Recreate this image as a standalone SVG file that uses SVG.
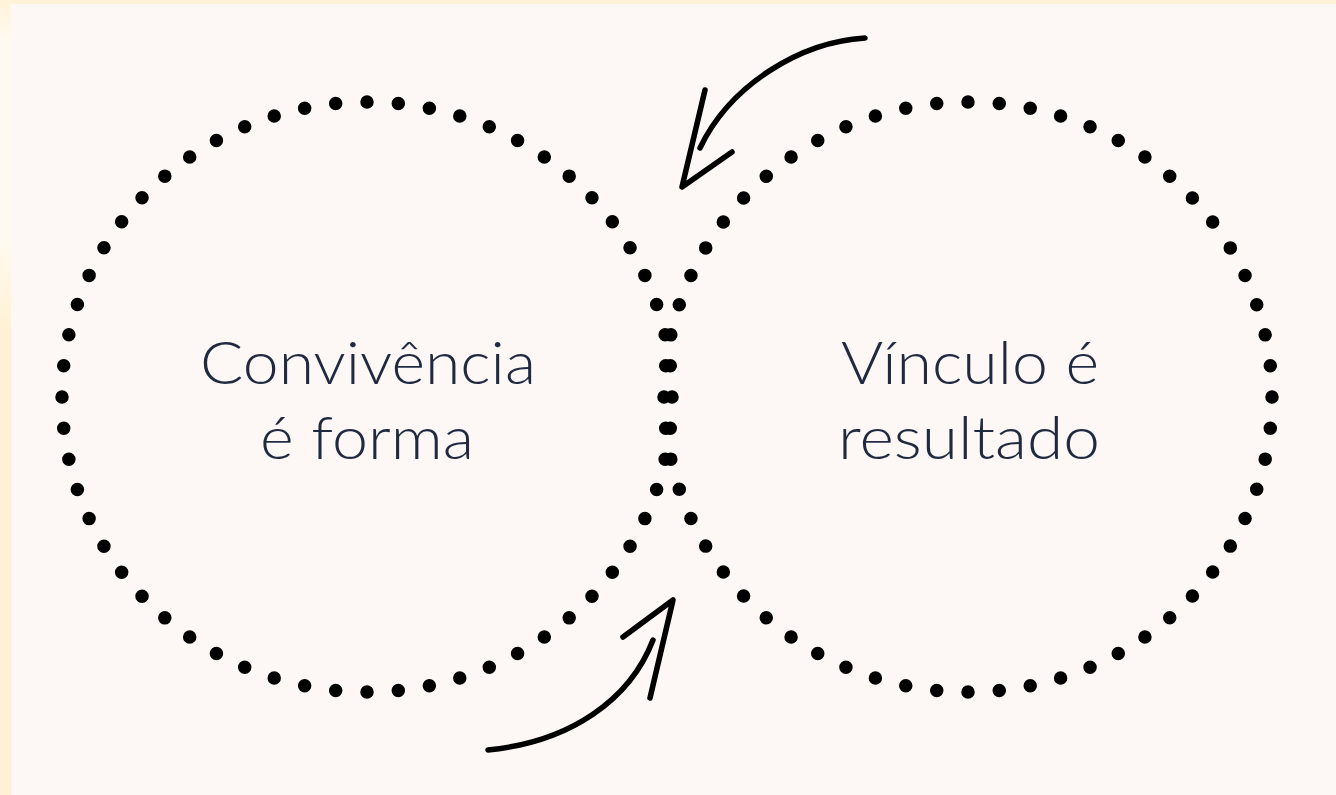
<svg xmlns="http://www.w3.org/2000/svg" width="1336" height="795" viewBox="0 0 1336 795">
  <defs>
    <linearGradient id="edge" x1="0" y1="0" x2="0" y2="1">
      <stop offset="0" stop-color="#fff3d9"/>
      <stop offset="0.05" stop-color="#fffaf0"/>
      <stop offset="0.3" stop-color="#fffaf0"/>
      <stop offset="0.42" stop-color="#fff1d4"/>
      <stop offset="1" stop-color="#fff1d4"/>
    </linearGradient>
  </defs>
  <style>
    .ring { fill: none; stroke: #000; stroke-width: 13.5; stroke-linecap: round; stroke-dasharray: 0 1; }
    .label { font-family: "Lato", "Open Sans", "Liberation Sans", sans-serif; font-weight: 300; font-size: 59px; fill: #1f2a40; text-anchor: middle; }
    .arrow { fill: none; stroke: #000; stroke-width: 5.5; stroke-linecap: round; stroke-linejoin: round; }
  </style>
  <rect x="0" y="0" width="1336" height="795" fill="#fff2d6"/>
  <rect x="0" y="0" width="11" height="795" fill="url(#edge)"/>
  <rect x="11" y="4" width="1325" height="791" fill="#fdf8f5"/>

  <g id="node-convivencia">
    <ellipse class="ring" cx="367" cy="397" rx="305" ry="295" pathLength="60"/>
    <text class="label" x="368" y="384" textLength="336" lengthAdjust="spacingAndGlyphs">Convivência</text>
    <text class="label" x="367" y="459" textLength="214" lengthAdjust="spacingAndGlyphs">é forma</text>
  </g>

  <g id="node-vinculo">
    <ellipse class="ring" cx="968" cy="397" rx="304" ry="295" pathLength="60"/>
    <text class="label" x="970" y="384" textLength="258" lengthAdjust="spacingAndGlyphs">Vínculo é</text>
    <text class="label" x="969" y="459" textLength="262" lengthAdjust="spacingAndGlyphs">resultado</text>
  </g>

  <g id="connectors">
    <path class="arrow" d="M865,38 C800,42 730,85 700,148"/>
    <polyline class="arrow" points="705,90 682,187 732,152"/>
    <path class="arrow" d="M488,750 C570,742 630,700 653,640"/>
    <polyline class="arrow" points="623,637 673,600 650,698"/>
  </g>
</svg>
